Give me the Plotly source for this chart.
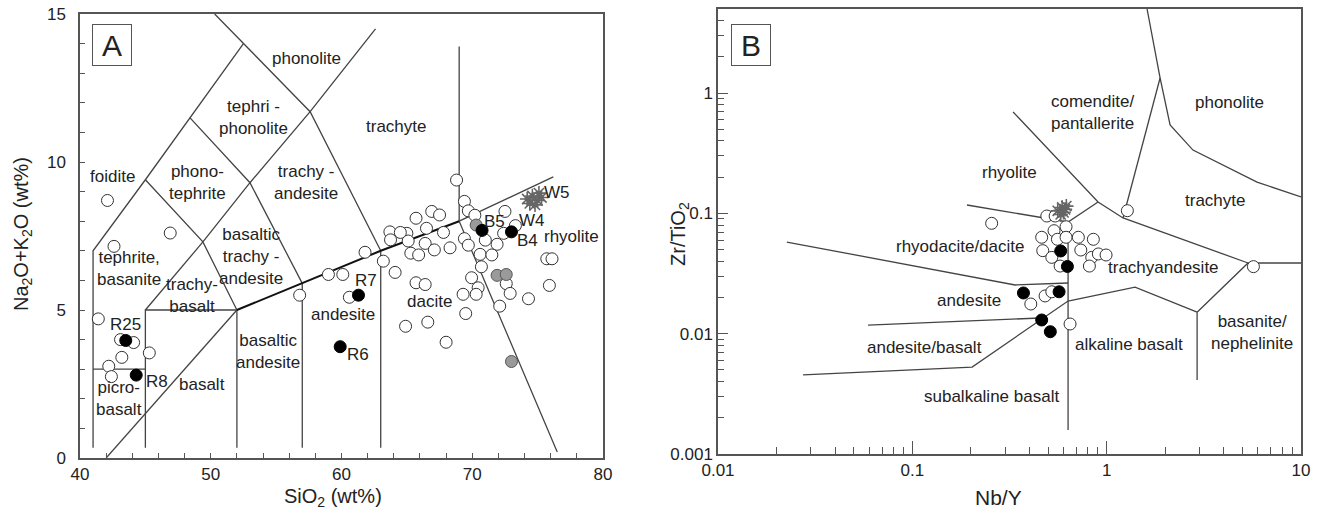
import numpy as np
import plotly.graph_objects as go

FONT = "Liberation Sans, Arial, sans-serif"
INK = "#222222"
LINE = "#555555"

# ---------------- Panel A : TAS diagram ----------------
# boundary polylines (SiO2, Na2O+K2O)
tas_bounds = [
    [(41, 0.35), (41, 7), (45, 9.4), (48.4, 11.5), (52.5, 14)],
    [(50.3, 15), (52.5, 14), (57.6, 11.7), (63, 7)],
    [(41, 3), (45, 3)],
    [(45, 0.35), (45, 5), (52, 5)],
    [(52, 0.35), (52, 5)],
    [(57, 0.35), (57, 5.9)],
    [(63, 0.35), (63, 7)],
    [(42, 0), (52, 5)],
    [(45, 5), (49.4, 7.3)],
    [(45, 9.4), (49.4, 7.3), (52, 5)],
    [(48.4, 11.5), (53, 9.3), (57, 5.9)],
    [(49.4, 7.3), (53, 9.3), (57.6, 11.7), (62.6, 14.5)],
    [(69, 13.9), (69, 8), (76.5, 0.2)],
    [(69, 8), (76.2, 9.5)],
]
tas_main = [(52, 5), (57, 5.9), (63, 7), (69, 8)]

a_open_sio2 = [42.1, 46.9, 42.6, 41.4, 43.1, 44.1, 43.2, 45.3, 42.2, 42.4,
               56.8, 59.0, 60.1, 61.8, 63.2, 64.1, 60.6, 64.9, 66.6, 68.0,
               68.8, 69.4, 69.7, 70.2, 72.5, 73.3, 72.4, 71.9, 71.0, 69.4,
               69.7, 70.6, 71.5, 70.7, 69.95, 72.6, 72.9, 70.45, 69.3, 72.1,
               74.3, 75.9, 75.7, 76.1, 69.5, 65.7, 66.9, 67.5, 63.7, 65.0,
               63.75, 65.1, 66.5, 67.8, 66.4, 65.3, 65.9, 67.1, 68.3, 65.7,
               66.4, 70.3, 64.5]
a_open_alk = [8.7, 7.6, 7.15, 4.7, 4.0, 3.9, 3.4, 3.55, 3.1, 2.75,
              5.5, 6.2, 6.2, 6.95, 6.65, 6.27, 5.43, 4.45, 4.59, 3.91,
              9.39, 8.67, 8.35, 8.2, 8.33, 7.85, 7.59, 7.22, 7.36, 7.41,
              7.19, 6.88, 6.86, 6.46, 6.09, 5.89, 5.56, 5.75, 5.53, 5.13,
              5.38, 5.83, 6.73, 6.73, 4.88, 8.1, 8.33, 8.21, 7.64, 7.59,
              7.37, 7.33, 7.76, 7.62, 7.25, 6.92, 6.86, 7.03, 7.1, 5.92,
              5.86, 5.53, 7.62]
a_gray_sio2 = [70.3, 71.9, 72.6, 73.0]
a_gray_alk = [7.87, 6.17, 6.2, 3.26]
a_fill_sio2 = [43.5, 44.3, 61.3, 59.9, 70.75, 73.0]
a_fill_alk = [3.97, 2.8, 5.5, 3.76, 7.69, 7.64]
a_cross_sio2 = [74.2, 74.6, 75.0, 75.3, 74.8, 74.4, 75.1]
a_cross_alk = [8.75, 8.85, 8.7, 8.8, 8.55, 8.6, 8.95]

a_region_text = ["phonolite", "tephri -<br>phonolite", "foidite", "phono-<br>tephrite",
                 "trachy -<br>andesite", "trachyte", "basaltic<br>trachy -<br>andesite",
                 "tephrite,<br>basanite", "trachy-<br>basalt", "picro-<br>basalt", "basalt",
                 "basaltic<br>andesite", "andesite", "dacite", "rhyolite"]
a_region_x = [57.3, 53.3, 42.5, 49.0, 57.3, 64.2, 53.1, 43.75, 48.55, 43.0, 49.3,
              54.4, 60.1, 66.75, 77.6]
a_region_y = [13.5, 11.5, 9.5, 9.3, 9.3, 11.2, 6.8, 6.4, 5.5, 2.0, 2.5,
              3.6, 4.85, 5.3, 7.5]
a_sample_text = ["R25", "R8", "R7", "R6", "B5", "B4", "W4", "W5"]
a_sample_x = [43.5, 45.9, 61.9, 61.25, 71.7, 74.2, 74.6, 76.5]
a_sample_y = [4.5, 2.6, 6.0, 3.5, 8.0, 7.35, 8.03, 8.98]

# ---------------- Panel B : Zr/TiO2 vs Nb/Y ----------------
wf_bounds = [
    [(0.0226, 0.0578), (0.338, 0.0254), (0.633, 0.0264)],
    [(0.0592, 0.0118), (0.454, 0.0135)],
    [(0.0274, 0.00454), (0.203, 0.00528), (0.633, 0.0187), (1.40, 0.0244), (2.92, 0.0151)],
    [(2.92, 0.0151), (2.92, 0.00412)],
    [(2.92, 0.0151), (5.34, 0.0387), (10, 0.0387)],
    [(0.330, 0.697), (0.903, 0.1244), (1.214, 0.0916), (5.34, 0.0387)],
    [(0.191, 0.1174), (0.465, 0.0916), (0.633, 0.0848), (0.903, 0.1244)],
    [(0.633, 0.0848), (0.633, 0.00158)],
    [(1.614, 5.0), (1.883, 1.335), (2.12, 0.543), (2.78, 0.336), (5.94, 0.182), (10, 0.137)],
    [(1.214, 0.0916), (1.883, 1.335)],
]
b_open_nby = [0.256, 0.492, 0.543, 0.618, 0.536, 0.463, 0.558, 0.618, 0.715, 0.854,
              0.469, 0.522, 0.736, 0.576, 0.838, 0.906, 0.993, 0.815, 0.482, 0.522,
              0.407, 0.648, 1.278, 5.69]
b_open_zr = [0.0827, 0.0951, 0.0951, 0.0775, 0.0718, 0.0633, 0.0609, 0.0633, 0.0633, 0.0609,
             0.049, 0.0431, 0.0496, 0.0365, 0.0431, 0.046, 0.0451, 0.0365, 0.0206, 0.0223,
             0.01765, 0.01204, 0.1053, 0.0361]
b_fill_nby = [0.580, 0.628, 0.373, 0.569, 0.463, 0.513]
b_fill_zr = [0.0487, 0.0362, 0.0218, 0.0223, 0.0130, 0.01039]
b_cross_nby = [0.56, 0.59, 0.61, 0.58, 0.62, 0.60]
b_cross_zr = [0.105, 0.112, 0.108, 0.098, 0.115, 0.102]

b_region_text = ["comendite/<br>pantallerite", "phonolite", "rhyolite", "trachyte",
                 "rhyodacite/dacite", "trachyandesite", "andesite", "andesite/basalt",
                 "subalkaline basalt", "alkaline basalt", "basanite/<br>nephelinite"]
b_region_x = [0.841, 4.27, 0.318, 3.61, 0.178, 1.95, 0.196, 0.116, 0.257, 1.304, 5.6]
b_region_y = [0.684, 0.843, 0.217, 0.129, 0.0526, 0.0358, 0.019, 0.00774, 0.00298, 0.0082, 0.01014]

b_major = [0.01, 0.1, 1, 10]
b_major_txt = ["0.01", "0.1", "1", "10"]
b_ymajor = [0.001, 0.01, 0.1, 1]
b_ymajor_txt = ["0.001", "0.01", "0.1", "1"]


def polyline(segs):
    xs, ys = [], []
    for s in segs:
        for p in s:
            xs.append(p[0]); ys.append(p[1])
        xs.append(None); ys.append(None)
    return xs, ys


fig = go.Figure()

# Panel A lines
lx, ly = polyline(tas_bounds)
fig.add_trace(go.Scatter(x=lx, y=ly, mode="lines", line=dict(color="#444", width=1.3),
                         xaxis="x", yaxis="y", hoverinfo="skip"))
mx, my = polyline([tas_main])
fig.add_trace(go.Scatter(x=mx, y=my, mode="lines", line=dict(color="#111", width=2),
                         xaxis="x", yaxis="y", hoverinfo="skip"))

open_m = dict(symbol="circle", size=12, color="white", line=dict(color="#333", width=1))
fill_m = dict(symbol="circle", size=12, color="black", line=dict(color="black", width=1))
gray_m = dict(symbol="circle", size=12, color="#9a9a9a", line=dict(color="#555", width=1))
cross_m = dict(symbol="asterisk-open", size=12, color="#666", line=dict(color="#666", width=1.6))

fig.add_trace(go.Scatter(x=a_open_sio2, y=a_open_alk, mode="markers", marker=open_m, xaxis="x", yaxis="y"))
fig.add_trace(go.Scatter(x=a_gray_sio2, y=a_gray_alk, mode="markers", marker=gray_m, xaxis="x", yaxis="y"))
fig.add_trace(go.Scatter(x=a_fill_sio2, y=a_fill_alk, mode="markers", marker=fill_m, xaxis="x", yaxis="y"))
fig.add_trace(go.Scatter(x=a_cross_sio2, y=a_cross_alk, mode="markers", marker=cross_m, xaxis="x", yaxis="y"))

# Panel B lines
bx, by = polyline(wf_bounds)
fig.add_trace(go.Scatter(x=bx, y=by, mode="lines", line=dict(color="#444", width=1.3),
                         xaxis="x2", yaxis="y2", hoverinfo="skip"))
fig.add_trace(go.Scatter(x=b_open_nby, y=b_open_zr, mode="markers", marker=open_m, xaxis="x2", yaxis="y2"))
fig.add_trace(go.Scatter(x=b_fill_nby, y=b_fill_zr, mode="markers", marker=fill_m, xaxis="x2", yaxis="y2"))
fig.add_trace(go.Scatter(x=b_cross_nby, y=b_cross_zr, mode="markers", marker=cross_m, xaxis="x2", yaxis="y2"))

C = dict(xanchor="center", yanchor="middle", showarrow=False)
ann = []
for t, x, y in zip(a_region_text, a_region_x, a_region_y):
    ann.append(dict(text=t, x=x, y=y, xref="x", yref="y",
                    font=dict(size=17, color=INK, family=FONT), **C))
for t, x, y in zip(a_sample_text, a_sample_x, a_sample_y):
    ann.append(dict(text=t, x=x, y=y, xref="x", yref="y",
                    font=dict(size=17, color=INK, family=FONT), **C))
for t, x, y in zip(b_region_text, b_region_x, b_region_y):
    ann.append(dict(text=t, x=float(np.log10(x)), y=float(np.log10(y)), xref="x2", yref="y2",
                    font=dict(size=17, color=INK, family=FONT), **C))

# panel letters
ann.append(dict(text="A", x=(111.5 - 80) / 523, y=1 - (44.5 - 14) / 444, xref="x domain", yref="y domain",
                font=dict(size=30, color=INK, family=FONT), bordercolor="#555", borderwidth=1,
                width=36, height=38, borderpad=1, bgcolor="white", **C))
ann.append(dict(text="B", x=(751 - 718) / 583, y=1 - (45 - 9) / 445, xref="x2 domain", yref="y2 domain",
                font=dict(size=30, color=INK, family=FONT), bordercolor="#555", borderwidth=1,
                width=36, height=38, borderpad=1, bgcolor="white", **C))

# axis titles
ann.append(dict(text="SiO<sub>2</sub> (wt%)", x=333 / 1318, y=1 - 497 / 513, xref="paper", yref="paper",
                font=dict(size=20, color=INK, family=FONT), **C))
ann.append(dict(text="Na<sub>2</sub>O+K<sub>2</sub>O (wt%)", x=22 / 1318, y=1 - 234 / 513,
                xref="paper", yref="paper", textangle=-90,
                font=dict(size=20, color=INK, family=FONT), **C))
ann.append(dict(text="Nb/Y", x=998 / 1318, y=1 - 497 / 513, xref="paper", yref="paper",
                font=dict(size=21, color=INK, family=FONT), **C))
ann.append(dict(text="Zr/TiO<sub>2</sub>", x=679 / 1318, y=1 - 234 / 513,
                xref="paper", yref="paper", textangle=-90,
                font=dict(size=20, color=INK, family=FONT), **C))

axis_common = dict(showline=True, linecolor=LINE, linewidth=1.5, mirror=True, showgrid=False,
                   zeroline=False, tickfont=dict(size=17, color=INK, family=FONT),
                   ticks="inside", tickcolor=LINE, automargin=False)

fig.update_layout(
    width=1318, height=513, margin=dict(l=0, r=0, t=0, b=0, autoexpand=False),
    paper_bgcolor="white", plot_bgcolor="white", showlegend=False,
    xaxis=dict(domain=[80 / 1318, 603 / 1318], range=[40, 80], dtick=10, tick0=40,
               ticklen=5, minor=dict(dtick=2, ticks="inside", ticklen=5, tickcolor=LINE),
               anchor="y", **axis_common),
    yaxis=dict(domain=[55 / 513, 499 / 513], range=[0, 15], dtick=5, tick0=0,
               ticklen=5, ticklabelstandoff=9,
               minor=dict(dtick=1, ticks="inside", ticklen=5, tickcolor=LINE),
               anchor="x", **axis_common),
    xaxis2=dict(domain=[718 / 1318, 1301 / 1318], type="log", range=[-2, 1],
                tickmode="array", tickvals=b_major, ticktext=b_major_txt, ticklen=13,
                minor=dict(tickvals=[m * d for d in [0.01, 0.1, 1] for m in range(2, 10)],
                           ticks="inside", ticklen=7, tickcolor=LINE),
                anchor="y2", **axis_common),
    yaxis2=dict(domain=[59 / 513, 504 / 513], type="log", range=[-3, np.log10(5.0)],
                tickmode="array", tickvals=b_ymajor, ticktext=b_ymajor_txt, ticklen=10,
                minor=dict(tickvals=[m * d for d in [0.001, 0.01, 0.1, 1] for m in range(2, 10) if m * d <= 5],
                           ticks="inside", ticklen=6, tickcolor=LINE),
                anchor="x2", **axis_common),
    annotations=ann,
)

fig.write_html("out.html", config={"displayModeBar": False},
               post_script="document.body.style.margin='0px';document.body.style.overflow='hidden';")
